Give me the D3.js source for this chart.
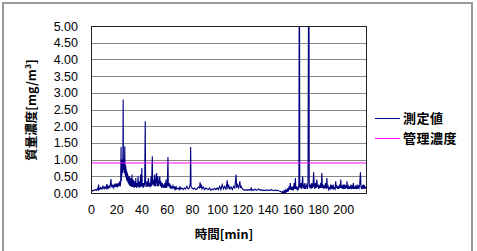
<!DOCTYPE html>
<html>
<head>
<meta charset="utf-8">
<script src="https://cdn.jsdelivr.net/npm/d3@7"></script>
<style>
  body { margin: 0; background: #fff; }
  text { font-family: "Liberation Sans", Arial, sans-serif; }
  .jp { font-family: "Noto Sans CJK JP", sans-serif; font-weight: bold; }
</style>
</head>
<body>
<div id="chart"></div>
<script>
// measured concentration: [time min, mg/m3]
const measured = [
  [0,0.05],[0.5,0.07],[1,0.06],[1.5,0.08],[2,0.07],[2.5,0.09],[3,0.08],[3.5,0.1],[4,0.09],[4.5,0.08],[5,0.12],[5.5,0.1],[6,0.25],[6.3,0.1],[7,0.12],[7.5,0.16],[8,0.12],[8.5,0.15],[9,0.13],[9.5,0.2],[10,0.15],[10.5,0.18],[11,0.13],[11.5,0.17],[12,0.14],[12.5,0.27],[13,0.15],[13.5,0.2],[14,0.15],[14.5,0.2],[15,0.17],[15.8,0.42],[16.3,0.18],[16.7,0.25],[17,0.17],[17.5,0.22],[18,0.16],[18.5,0.24],[19,0.18],[19.5,0.28],[20,0.18],[20.5,0.25],[21,0.2],[21.5,0.3],[22,0.2],[22.4,0.28],[22.8,0.35],[23.2,0.2],[23.5,0.3],
  [23.8,1.38],[24,0.35],[24.2,0.9],[24.4,0.5],[24.6,1.0],[24.8,0.7],[25,0.95],[25.2,0.6],[25.5,2.8],[25.7,0.7],[25.9,1.0],[26.1,0.75],[26.3,0.9],[26.5,0.6],[26.8,1.4],[27,0.55],[27.2,0.85],[27.4,0.5],[27.6,0.8],[27.8,0.45],[28,0.7],[28.2,0.4],[28.4,0.65],[28.6,0.35],[28.8,0.6],[29,0.35],[29.2,0.55],[29.4,0.3],[29.6,0.5],[29.8,0.28],[30,0.45],[30.25,0.25],[30.5,0.5],[30.75,0.22],[31,0.4],[31.25,0.2],[31.5,0.45],[31.75,0.22],[32,0.35],[32.25,0.18],[32.5,0.55],[32.75,0.2],[33,0.3],[33.25,0.18],[33.5,0.4],[33.75,0.2],[34,0.3],[34.25,0.15],[34.5,0.35],[34.75,0.2],[35,0.25],[35.25,0.18],[35.5,0.45],[35.75,0.2],[36,0.3],[36.25,0.15],[36.5,0.3],[36.75,0.2],[37,0.25],[37.3,0.5],[37.6,0.18],[38,0.3],[38.25,0.15],[38.5,0.35],[38.75,0.2],[39,0.25],[39.3,0.55],[39.6,0.18],[40,0.3],[40.3,0.75],[40.6,0.2],[41,0.3],[41.3,0.15],[41.6,0.3],[42,0.18],[42.3,0.25],[42.6,0.4],
  [43,2.15],[43.3,0.3],[43.7,0.18],[44,0.25],[44.5,0.35],[45,0.18],[45.5,0.45],[46,0.2],[46.6,0.3],[47,0.17],[47.6,0.5],[48,0.2],[48.6,1.1],[48.9,0.25],[49.5,0.4],[50,0.2],[50.5,0.55],[51,0.2],[51.5,0.35],[52,0.6],[52.4,0.2],[53,0.5],[53.4,0.2],[54,0.3],[54.5,0.5],[55,0.2],[55.5,0.35],[56,0.15],[56.5,0.3],[57,0.17],[57.5,0.25],[58,0.15],[58.5,0.3],[59,0.15],[59.5,0.4],[60,0.15],[60.5,0.25],[61,1.08],[61.3,0.2],[62,0.3],[62.5,0.15],[63,0.25],[63.5,0.12],[64,0.2],[64.5,0.13],[65,0.22],[66,0.12],[66.5,0.2],[67,0.12],[67.5,0.18],[68,0.12],[69,0.15],[70,0.1],[70.5,0.2],[71,0.12],[72,0.15],[73,0.1],[74,0.15],[75,0.12],[76,0.2],[77,0.12],[78,0.15],[78.7,0.3],[79,1.38],[79.3,0.2],[80,0.15],
  [81,0.12],[82,0.15],[83,0.1],[84,0.12],[85,0.18],[86,0.15],[86.5,0.32],[87,0.15],[87.5,0.25],[88,0.12],[89,0.18],[90,0.1],[91,0.15],[92,0.12],[93,0.1],[94,0.15],[95,0.08],[96,0.12],[97,0.1],[98,0.14],[99,0.1],[100,0.15],[101,0.1],[102,0.2],[103,0.1],[104,0.25],[105,0.12],[106,0.2],[107,0.1],[108,0.38],[108.5,0.12],[109,0.25],[110,0.12],[111,0.18],[112,0.1],[113,0.2],[114,0.15],[115,0.55],[115.4,0.15],[116,0.25],[117,0.15],[118,0.35],[118.5,0.15],[119,0.2],[120,0.12],
  [121,0.1],[122,0.08],[123,0.1],[124,0.08],[125,0.1],[126,0.08],[127,0.15],[127.5,0.08],[128,0.1],[129,0.08],[130,0.12],[131,0.08],[132,0.1],[133,0.12],[134,0.08],[135,0.1],[136,0.07],[137,0.09],[138,0.07],[139,0.1],[140,0.07],[141,0.09],[142,0.08],[143,0.1],[144,0.08],[145,0.07],[146,0.09],[147,0.07],[148,0.08],[149,0.06],[150,0.05],[151,0.03],[151.5,0.01],[152,0.04],[152.5,0],[153,0.06],[153.5,0.01],[154,0.08],[154.5,0.02],[155,0.1],[155.5,0.03],[156,0.15],[156.5,0.05],[157,0.2],[157.5,0.1],[158,0.3],[158.4,0.1],
  [159,0.15],[159.5,0.08],[160,0.2],[160.5,0.08],[161,0.3],[161.5,0.12],[162,0.45],[162.4,0.12],[163,0.2],[163.5,0.1],[164,0.15],[164.5,0.1],[164.8,0.3],[165.2,9],[165.5,0.2],[166,0.15],[166.5,0.3],[167,0.12],[167.8,0.5],[168.2,0.15],[168.6,0.25],[169,0.12],[169.5,0.3],[170,0.12],[170.5,0.2],[171,0.25],[171.5,0.12],[172,0.2],[172.7,9],[173,0.3],[173.5,0.15],[174,0.25],[174.5,0.12],[175,0.3],[175.5,0.15],[176,0.2],[176.5,0.62],[177,0.2],[177.5,0.12],[178,0.3],[178.5,0.15],[179,0.4],[179.5,0.18],[180,0.25],
  [180.5,0.12],[181,0.2],[181.5,0.15],[182,0.3],[182.5,0.15],[183,0.6],[183.4,0.15],[184,0.25],[184.5,0.12],[185,0.2],[185.5,0.15],[186,0.3],[186.5,0.12],[187,0.45],[187.4,0.15],[188,0.2],[188.5,0.1],[189,0.15],[189.5,0.12],[190,0.25],[190.5,0.12],[191,0.2],[191.5,0.15],[192,0.25],[192.5,0.12],[193,0.15],[193.5,0.12],[194,0.35],[194.4,0.15],[195,0.2],[195.5,0.12],[196,0.2],[196.5,0.12],[197,0.25],[197.5,0.15],[198,0.4],[198.4,0.15],[199,0.2],[199.5,0.12],[200,0.25],
  [200.5,0.12],[201,0.25],[201.5,0.12],[202,0.2],[202.5,0.15],[203,0.35],[203.4,0.12],[204,0.2],[204.5,0.12],[205,0.2],[205.5,0.12],[206,0.25],[206.5,0.15],[207,0.2],[207.5,0.12],[208,0.3],[208.5,0.12],[209,0.2],[209.5,0.12],[210,0.2],[210.5,0.15],[211,0.25],[211.5,0.12],[212,0.2],[212.5,0.15],[213,0.25],[213.6,0.62],[214,0.2],[214.5,0.12],[215,0.2],[215.5,0.15],[216,0.25],[216.5,0.12],[217,0.2],[217.5,0.15],[218,0.18]
]
const limitValue = 0.9
const xTicks = [0,20,40,60,80,100,120,140,160,180,200]
const yTicks = [0,0.5,1,1.5,2,2.5,3,3.5,4,4.5,5]
const legendNames = ['測定値', '管理濃度']
const legendColors = ['#000080', '#ff00ff']

const width = 477, height = 251
const plot = { left: 91, right: 366, top: 26, bottom: 193 }

const svg = d3.select('#chart').append('svg')
  .attr('width', width)
  .attr('height', height)

// chart frame
svg.append('rect')
  .attr('x', 3).attr('y', 3)
  .attr('width', 469).attr('height', 270)
  .attr('fill', '#fff')
  .attr('stroke', '#999').attr('stroke-width', 2)

const x = d3.scaleLinear().domain([0, 218]).range([plot.left, plot.right])
const y = d3.scaleLinear().domain([0, 5]).range([plot.bottom, plot.top])

svg.append('defs').append('clipPath').attr('id', 'clip')
  .append('rect')
  .attr('x', plot.left).attr('y', plot.top)
  .attr('width', plot.right - plot.left).attr('height', plot.bottom - plot.top)

// grid
svg.append('g').selectAll('line')
  .data(yTicks).enter()
  .append('line')
  .attr('x1', plot.left).attr('x2', plot.right)
  .attr('y1', d => Math.round(y(d)) + 0.5).attr('y2', d => Math.round(y(d)) + 0.5)
  .attr('stroke', '#888')

// y axis labels
svg.append('g')
  .attr('transform', `translate(${plot.left},0)`)
  .call(d3.axisLeft(y).tickValues(yTicks).tickFormat(d3.format('.2f')).tickSize(0).tickPadding(13))
  .call(g => g.select('.domain').remove())
  .call(g => g.selectAll('text').attr('font-size', 12.5).attr('fill', '#000').attr('font-family', '"Liberation Sans", Arial, sans-serif'))

// x axis labels
svg.append('g')
  .attr('transform', `translate(0,${plot.bottom})`)
  .call(d3.axisBottom(x).tickValues(xTicks).tickSize(0).tickPadding(12))
  .call(g => g.select('.domain').remove())
  .call(g => g.selectAll('text').attr('font-size', 12.5).attr('fill', '#000').attr('font-family', '"Liberation Sans", Arial, sans-serif'))

const line = d3.line()
  .x(d => x(d[0]))
  .y(d => y(d[1]))

svg.append('path')
  .datum(measured)
  .attr('clip-path', 'url(#clip)')
  .attr('fill', 'none')
  .attr('stroke', legendColors[0])
  .attr('stroke-width', 1.1)
  .attr('d', line)

svg.append('line')
  .attr('x1', plot.left).attr('x2', plot.right)
  .attr('y1', y(limitValue)).attr('y2', y(limitValue))
  .attr('stroke', legendColors[1])
  .attr('stroke-width', 1)

// plot border
svg.append('rect')
  .attr('x', plot.left + 0.5).attr('y', plot.top + 0.5)
  .attr('width', plot.right - plot.left).attr('height', plot.bottom - plot.top)
  .attr('fill', 'none')
  .attr('stroke', '#222')

// axis titles
svg.append('text')
  .attr('class', 'jp')
  .attr('transform', 'translate(36,110) rotate(-90)')
  .attr('text-anchor', 'middle')
  .attr('font-size', 12.5)
  .text('質量濃度[mg/m³]')

svg.append('text')
  .attr('class', 'jp')
  .attr('x', 224).attr('y', 239)
  .attr('text-anchor', 'middle')
  .attr('font-size', 12.5)
  .text('時間[min]')

// legend
const legend = svg.append('g')
  .selectAll('g')
  .data(legendNames).enter()
  .append('g')
  .attr('transform', (d, i) => `translate(375,${118.5 + i * 20})`)

legend.append('line')
  .attr('x1', 0).attr('x2', 25)
  .attr('stroke', (d, i) => legendColors[i])

legend.append('text')
  .attr('class', 'jp')
  .attr('x', 28).attr('y', 4.5)
  .attr('font-size', 13)
  .attr('letter-spacing', 0.5)
  .text(d => d)
</script>
</body>
</html>
